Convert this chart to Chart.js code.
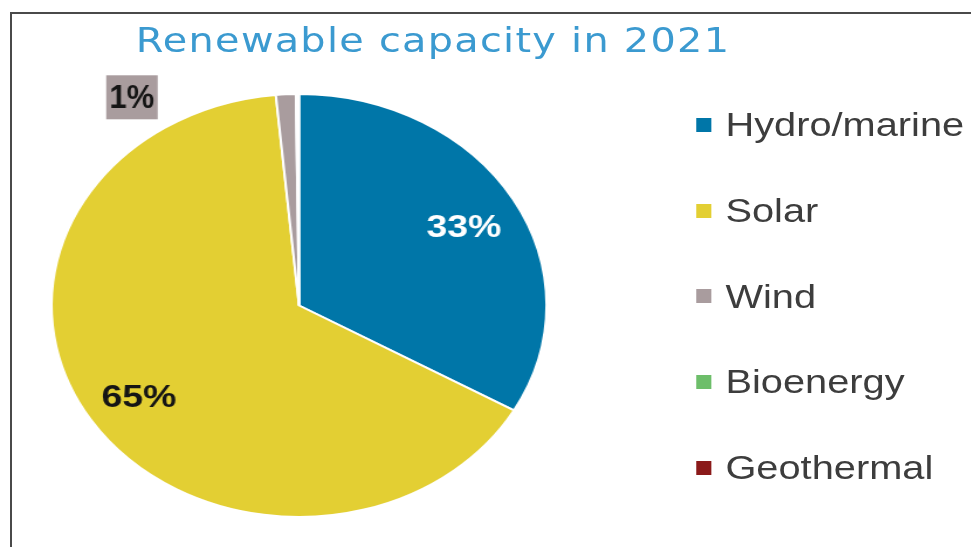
<!DOCTYPE html>
<html>
<head>
<meta charset="utf-8">
<script src="https://cdn.jsdelivr.net/npm/chart.js@4.4.1/dist/chart.umd.min.js"></script>
<style>
  html, body { margin:0; padding:0; background:#fff; overflow:hidden; width:971px; height:547px; }
  #frame { position:absolute; left:10px; top:12px; width:990px; height:560px; border-left:2px solid #4a4a4a; border-top:2px solid #4a4a4a; }
  /* the reference is stretched sideways, so the whole chart is too */
  #stretch { position:absolute; left:0; top:0; width:830px; height:547px; transform:scaleX(1.17); transform-origin:0 0; }
  #chart_box { position:absolute; left:0; top:0; width:830px; height:547px; }
  #titulo { position:absolute; left:116px; top:23px; font-family:"DejaVu Sans"; font-size:34px; line-height:34px; letter-spacing:1.1px; color:#3b9ad0; white-space:nowrap; }
  #legend_html { position:absolute; left:595px; top:82px; }
  .item { height:85.7px; display:flex; align-items:center; font-family:"Liberation Sans", Arial, sans-serif; font-size:34px; color:#3d3d3d; white-space:nowrap; }
  .item .box { width:13px; height:14px; margin-right:12px; display:inline-block; }
</style>
</head>
<body>
<div id="frame"></div>
<div id="stretch">
  <div id="chart_box"><canvas id="grafico"></canvas></div>
  <div id="titulo">Renewable capacity in 2021</div>
  <div id="legend_html"></div>
</div>
<script>
let categorias = ['Hydro/marine', 'Solar', 'Wind', 'Bioenergy', 'Geothermal'];
let valores = [33.3, 65.3, 1.3, 0.1, 0.1];
let colores = ['#0076a8', '#e3cf33', '#a99c9e', '#6dbe6a', '#8b1a1a'];
let colorEtiqueta = ['#ffffff', '#151515', '#151515', '#151515', '#151515'];

// porcentajes dentro del pastel, el pequeño va en una caja afuera
let etiquetas = {
    id: 'etiquetas',
    afterDatasetsDraw: (chart) => {
        let ctx = chart.ctx;
        let total = valores.reduce((a, b) => a + b, 0);
        chart.getDatasetMeta(0).data.forEach((arc, i) => {
            let pct = Math.round(valores[i] / total * 100);
            if (pct < 1) return;
            let p = arc.getProps(['x', 'y', 'startAngle', 'endAngle', 'outerRadius'], true);
            let mid = (p.startAngle + p.endAngle) / 2;
            let lx, ly;
            ctx.save();
            ctx.textAlign = 'center';
            ctx.textBaseline = 'middle';
            if (pct < 5) {
                lx = p.x + Math.cos(mid) * p.outerRadius - p.outerRadius * 0.622;
                ly = p.y + Math.sin(mid) * p.outerRadius + 3;
                ctx.fillStyle = colores[i];
                ctx.fillRect(lx - 22, ly - 22, 44, 44);
                ctx.font = 'bold 34px "Liberation Sans"';
                ctx.translate(lx, ly + 1);
                ctx.scale(0.78, 1);
                ctx.fillStyle = colorEtiqueta[i];
                ctx.fillText(pct + '%', 0, 0);
            } else {
                lx = p.x + Math.cos(mid) * p.outerRadius * 0.77;
                ly = p.y + Math.sin(mid) * p.outerRadius * 0.77;
                ctx.font = 'bold 32px "Liberation Sans"';
                ctx.fillStyle = colorEtiqueta[i];
                ctx.fillText(pct + '%', lx, ly + 4);
            }
            ctx.restore();
        });
    }
};

let grafico = new Chart(document.getElementById('grafico'), {
    type: 'pie',
    data: {
        labels: categorias,
        datasets: [{ data: valores, backgroundColor: colores, borderColor: '#ffffff', borderWidth: 2 }]
    },
    options: {
        responsive: true,
        maintainAspectRatio: false,
        animation: false,
        layout: { padding: { left: 0, right: 318.8, top: 93, bottom: 29 } },
        plugins: { legend: { display: false }, tooltip: { enabled: false } }
    },
    plugins: [etiquetas]
});

let legend_html = document.getElementById('legend_html');
grafico.options.plugins.legend.labels.generateLabels(grafico).forEach((item) => {
    let fila = "<div class='item'><span class='box' style='background:" + item.fillStyle + "'></span>" + item.text + "</div>";
    legend_html.insertAdjacentHTML('beforeend', fila);
});
</script>
</body>
</html>
